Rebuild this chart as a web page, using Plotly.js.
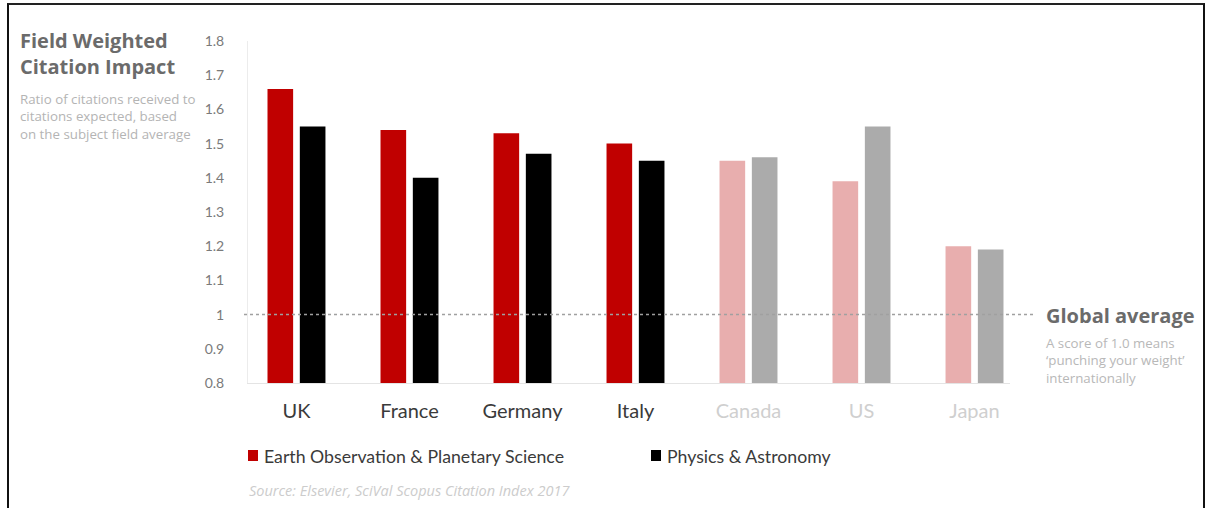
<!DOCTYPE html>
<html>
<head>
<meta charset="utf-8">
<script src="https://cdn.plot.ly/plotly-3.0.1.min.js"></script>
<style>
  html, body { margin: 0; padding: 0; background: #fff; }
  #wrap { position: relative; width: 1208px; height: 508px; overflow: hidden; }
  #chart { position: absolute; left: 0; top: 0; width: 1208px; height: 508px; }
  #frame { position: absolute; left: 7px; top: 3px; width: 1194px; height: 520px;
           border-left: 2px solid #111; border-top: 2px solid #222; border-right: 2px solid #111;
           pointer-events: none; }
</style>
</head>
<body>
<div id="wrap">
  <div id="chart"></div>
  <div id="frame"></div>
</div>
<script>
// ---- data ----
var countries = ['UK', 'France', 'Germany', 'Italy', 'Canada', 'US', 'Japan'];
var earthObs = [1.66, 1.54, 1.53, 1.50, 1.45, 1.39, 1.20];
var physics  = [1.55, 1.40, 1.47, 1.45, 1.46, 1.55, 1.19];
var highlighted = [true, true, true, true, false, false, false];
var seriesNames = ['Earth Observation & Planetary Science', 'Physics & Astronomy'];
var globalAverage = 1.0;

// ---- styles ----
var FONT = 'Lato, "Open Sans", sans-serif';
var FONT2 = '"Open Sans", Lato, sans-serif';
var redStrong = '#C00000', redSoft = '#E8AEAE';
var blackStrong = '#000000', greySoft = '#ABABAB';

var earthColors = highlighted.map(function (h) { return h ? redStrong : redSoft; });
var physColors = highlighted.map(function (h) { return h ? blackStrong : greySoft; });
var tickText = countries.map(function (c, i) {
  return '<span style="color:' + (highlighted[i] ? '#3a3a3a' : '#cfcfcf') + '">' + c + '</span>';
});

var traces = [
  { type: 'bar', x: countries, y: earthObs, name: seriesNames[0],
    marker: { color: earthColors }, showlegend: false, hoverinfo: 'skip' },
  { type: 'bar', x: countries, y: physics, name: seriesNames[1],
    marker: { color: physColors }, showlegend: false, hoverinfo: 'skip' }
];

// pixel helpers for paper coordinates (plot area: left 248, top 41, width 762, height 342)
var L = 248, T = 41, W = 762, H = 342;
function px(x) { return (x - L) / W; }
function py(y) { return (T + H - y) / H; }

function note(x, y, text, font, ya) {
  return { xref: 'paper', yref: 'paper', x: px(x), y: py(y), xanchor: 'left', yanchor: ya || 'middle',
           align: 'left', showarrow: false, text: text, font: font };
}
var headFont = { family: FONT2, size: 20, color: '#6b6b6b', weight: 700 };
var smallFont = { family: FONT2, size: 13.3, color: '#b4b4b4' };

var layout = {
  width: 1208, height: 508,
  margin: { l: L, r: 1208 - L - W, t: T, b: 508 - T - H },
  paper_bgcolor: '#ffffff', plot_bgcolor: '#ffffff',
  font: { family: FONT, color: '#555' },
  barmode: 'group',
  bargap: 0.428,
  bargroupgap: 0.207,
  showlegend: false,
  xaxis: {
    type: 'category',
    range: [-0.429, 6.314],
    tickvals: countries, ticktext: tickText,
    tickfont: { size: 20, family: FONT, color: '#3a3a3a' },
    showgrid: false, zeroline: false,
    showline: true, linecolor: '#e4e4e4', linewidth: 1,
    ticks: '', ticklabelstandoff: 10,
    fixedrange: true
  },
  yaxis: {
    range: [0.8, 1.8],
    tick0: 0.8, dtick: 0.1,
    tickfont: { size: 14, family: FONT, color: '#7a7a7a' },
    showgrid: false, zeroline: false,
    showline: true, linecolor: '#ececec', linewidth: 1,
    ticks: '', ticklabelstandoff: 20,
    fixedrange: true
  },
  shapes: [
    { type: 'line', xref: 'paper', yref: 'y', x0: px(244), x1: px(1034), y0: globalAverage, y1: globalAverage,
      line: { color: '#a0a0a0', width: 1.5, dash: 'dot' }, layer: 'above' },
    { type: 'rect', xref: 'paper', yref: 'paper', x0: px(248), x1: px(258), y0: py(461), y1: py(450),
      fillcolor: redStrong, line: { width: 0 } },
    { type: 'rect', xref: 'paper', yref: 'paper', x0: px(651), x1: px(661), y0: py(461), y1: py(450),
      fillcolor: blackStrong, line: { width: 0 } }
  ],
  annotations: [
    note(18, 54, '<b>Field Weighted<br>Citation Impact</b>', headFont),
    note(18, 88, 'Ratio of citations received to<br>citations expected, based<br>on the subject field average', smallFont, 'top'),
    note(1044, 315, '<b>Global average</b>', headFont),
    note(1044, 332, 'A score of 1.0 means<br>\u2018punching your weight\u2019<br>internationally',
         { family: FONT2, size: 13.3, color: '#b8b8b8' }, 'top'),
    note(262, 456, seriesNames[0], { family: FONT, size: 17.7, color: '#3a3a3a' }),
    note(665, 456, seriesNames[1], { family: FONT, size: 17.7, color: '#3a3a3a' }),
    note(247, 490, '<i>Source: Elsevier, SciVal Scopus Citation Index 2017</i>',
         { family: FONT2, size: 14.5, color: '#cccccc' })
  ]
};

Plotly.newPlot('chart', traces, layout, { staticPlot: true, displayModeBar: false });
</script>
</body>
</html>
